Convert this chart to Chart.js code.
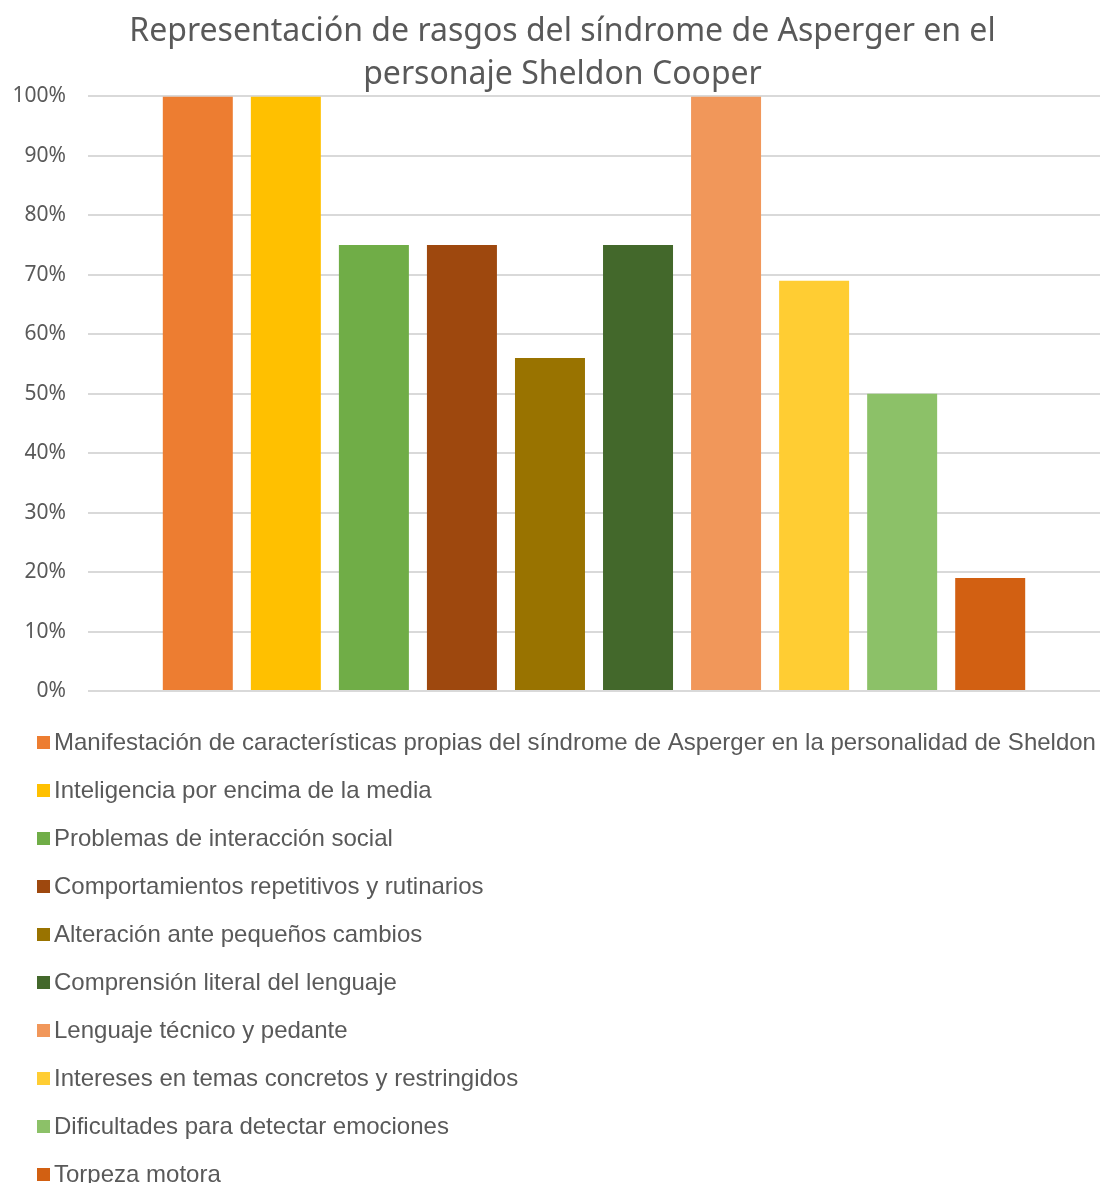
<!DOCTYPE html>
<html>
<head>
<meta charset="utf-8">
<script src="https://cdn.jsdelivr.net/npm/chart.js@4"></script>
<style>
  html, body { margin: 0; padding: 0; background: #fff; overflow: hidden; }
  #wrap { width: 1125px; height: 1183px; position: relative; }
</style>
</head>
<body>
<div id="wrap"><canvas id="chart"></canvas></div>
<script>
// datos
const categories = ['Sheldon Cooper'];
const seriesNames = [
    'Manifestación de características propias del síndrome de Asperger en la personalidad de Sheldon',
    'Inteligencia por encima de la media',
    'Problemas de interacción social',
    'Comportamientos repetitivos y rutinarios',
    'Alteración ante pequeños cambios',
    'Comprensión literal del lenguaje',
    'Lenguaje técnico y pedante',
    'Intereses en temas concretos y restringidos',
    'Dificultades para detectar emociones',
    'Torpeza motora'
];
const seriesValues = [1.00, 1.00, 0.75, 0.75, 0.56, 0.75, 1.00, 0.69, 0.50, 0.19];
const seriesColors = ['#ED7D31', '#FFC000', '#70AD47', '#9E480E', '#997300',
                      '#43682B', '#F1975A', '#FFCD33', '#8CC168', '#D26012'];
const yTicks = [0, 0.1, 0.2, 0.3, 0.4, 0.5, 0.6, 0.7, 0.8, 0.9, 1.0];
const titleLines = ['Representación de rasgos del síndrome de Asperger en el', 'personaje Sheldon Cooper'];

const gray = '#595959';

// leyenda vertical, una fila por serie
const verticalLegend = {
    id: 'verticalLegend',
    afterDraw(chart) {
        const ctx = chart.ctx;
        const top = 742;
        const step = 48;
        ctx.save();
        ctx.font = '24px "Liberation Sans", Arial, sans-serif';
        ctx.textBaseline = 'middle';
        chart.data.datasets.forEach((ds, i) => {
            const y = top + i * step;
            ctx.fillStyle = ds.backgroundColor;
            ctx.fillRect(37, y - 6, 13, 13);
            ctx.fillStyle = gray;
            ctx.fillText(ds.label, 54, y + 1);
        });
        ctx.restore();
    }
};

const ctx = document.getElementById('chart').getContext('2d');
new Chart(ctx, {
    type: 'bar',
    data: {
        labels: categories,
        datasets: seriesNames.map((name, i) => ({
            label: name,
            data: [seriesValues[i]],
            backgroundColor: seriesColors[i],
            borderWidth: 0,
            categoryPercentage: 0.87,
            barPercentage: 0.795
        }))
    },
    options: {
        responsive: true,
        maintainAspectRatio: false,
        animation: false,
        layout: { padding: { left: 0, right: 0, top: 0, bottom: 492 } },
        plugins: {
            legend: { display: false },
            tooltip: { enabled: false },
            title: {
                display: true,
                text: titleLines,
                color: gray,
                font: { family: '"Noto Sans", sans-serif', size: 32, weight: 'normal', lineHeight: 1.35 },
                padding: { top: 10, bottom: 0 }
            }
        },
        scales: {
            x: {
                display: true,
                grid: { display: false, drawTicks: false },
                border: { display: false },
                ticks: { display: false }
            },
            y: {
                min: 0,
                max: 1,
                afterBuildTicks(axis) {
                    axis.ticks = yTicks.map(v => ({ value: v }));
                },
                grid: { color: '#D9D9D9', lineWidth: 2, drawTicks: false },
                border: { display: false },
                afterFit(axis) { axis.width = 88; },
                ticks: {
                    color: gray,
                    padding: 22,
                    font: { family: '"Noto Sans", sans-serif', size: 21 },
                    callback: v => Math.round(v * 100) + '%'
                }
            },
            // eje vacio a la derecha: deja el titulo centrado como en el original
            y2: {
                position: 'right',
                display: true,
                grid: { display: false, drawTicks: false },
                border: { display: false },
                ticks: { display: false },
                afterFit(axis) { axis.width = 25; }
            }
        }
    },
    plugins: [verticalLegend]
});
</script>
</body>
</html>
